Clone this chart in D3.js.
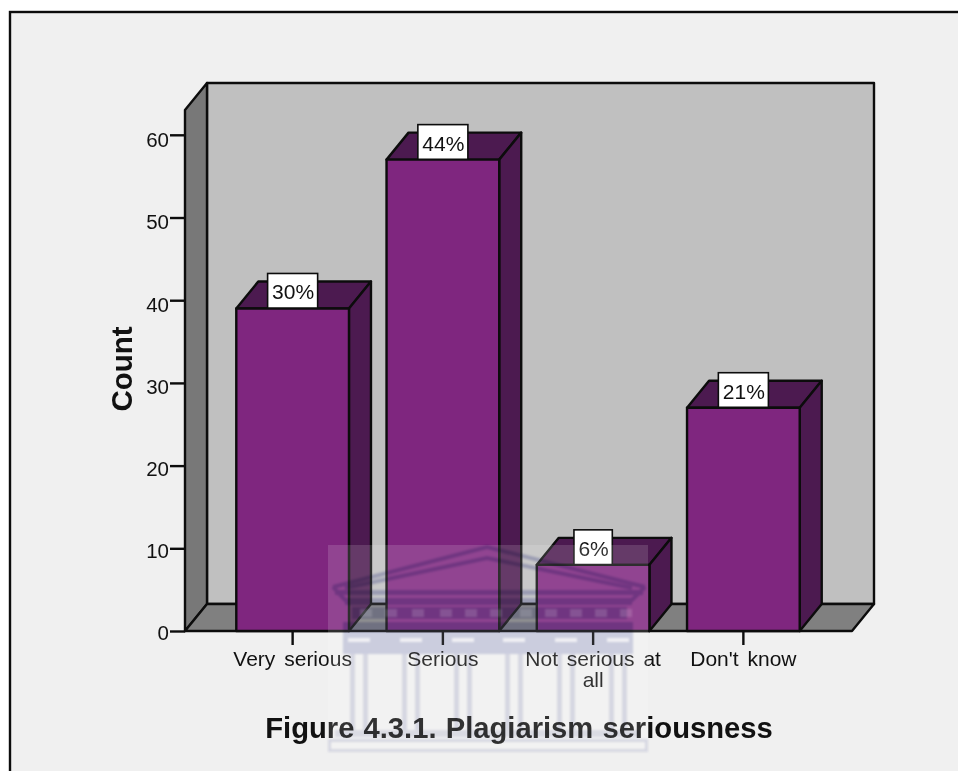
<!DOCTYPE html>
<html><head><meta charset="utf-8">
<script src="https://cdn.jsdelivr.net/npm/d3@7"></script>
<style>
html,body{margin:0;padding:0;background:#fff}
svg{display:block}
text{font-family:"Liberation Sans",Arial,sans-serif;fill:#111}
</style></head><body><svg id="c" width="958" height="771"></svg>
<script>
const categories = ["Very serious","Serious","Not serious at all","Don't know"];
const counts = [39,57,8,27];
const percents = ["30%","44%","6%","21%"];
const yTicks = [0,10,20,30,40,50,60];
const yTitle = "Count";
const figureTitle = "Figure 4.3.1. Plagiarism seriousness";

const svg = d3.select("#c");
const dx = 22, dy = 27, ink = "#0c0c0c", sw = 2.4;
const y = d3.scaleLinear().domain([0,63]).range([631,110]);
const yLabel = d3.scaleLinear().domain([0,60]).range([632,139.5]);
const x = d3.scaleBand().domain(categories).range([217.5,818.5]).paddingInner(0.25).paddingOuter(0.125);
const x0 = 185, x1 = 852, yB = y(0), yT = y(63);

const defs = svg.append("defs");
defs.append("filter").attr("id","soft").append("feGaussianBlur").attr("stdDeviation",0.8);

// frame
svg.append("rect").attr("x",10).attr("y",12).attr("width",960).attr("height",780)
  .attr("fill","#f0f0f0").attr("stroke",ink).attr("stroke-width",2.4);

const poly = (g,pts,fill) => g.append("polygon").attr("points",pts.map(p=>p.join(",")).join(" "))
  .attr("fill",fill).attr("stroke",ink).attr("stroke-width",sw).attr("stroke-linejoin","round");

// 3D walls
const walls = svg.append("g");
poly(walls,[[x0+dx,yT-dy],[x1+dx,yT-dy],[x1+dx,yB-dy],[x0+dx,yB-dy]],"#c0c0c0");
poly(walls,[[x0,yT],[x0+dx,yT-dy],[x0+dx,yB-dy],[x0,yB]],"#787878");
poly(walls,[[x0,yB],[x0+dx,yB-dy],[x1+dx,yB-dy],[x1,yB]],"#808080");

// axes
const ax = svg.append("g").attr("transform",`translate(${x0},0)`)
  .call(d3.axisLeft(y).tickValues(yTicks).tickSize(15).tickPadding(1).tickFormat(d3.format("d")));
const bx = svg.append("g").attr("transform",`translate(0,${yB})`)
  .call(d3.axisBottom(x).tickSize(14).tickPadding(6));
[ax,bx].forEach(g=>{
  g.select(".domain").remove();
  g.selectAll("line").attr("stroke",ink).attr("stroke-width",sw);
  g.selectAll("text").attr("font-size",20.5).style("fill","#111");
});
ax.selectAll("text").attr("dy","0.36em").attr("y",d=>yLabel(d)-y(d));
bx.selectAll("text").attr("font-size",21).style("word-spacing","3px");
// wrap long category labels
bx.selectAll("text").each(function(d){
  const t = d3.select(this), words = d.split(" ");
  if (this.getComputedTextLength() <= 150) return;
  const last = words.pop();
  t.text(null);
  t.append("tspan").attr("x",0).attr("dy","0.71em").text(words.join(" "));
  t.append("tspan").attr("x",0).attr("dy","1.02em").text(last);
  t.attr("dy",null);
});

// bars
const bars = svg.append("g");
categories.forEach((c,i)=>{
  const l = x(c), r = l + x.bandwidth(), t = y(counts[i]);
  const g = bars.append("g");
  poly(g,[[l,t],[l+dx,t-dy],[r+dx,t-dy],[r,t]],"#4c1a50");
  poly(g,[[r,t],[r+dx,t-dy],[r+dx,yB-dy],[r,yB]],"#4c1a50");
  const label = g.append("text").attr("x",(l+r)/2+0.5).attr("y",t-9).attr("text-anchor","middle")
    .attr("font-size",21).text(percents[i]);
  const w = label.node().getComputedTextLength() + 8;
  g.insert("rect","text").attr("x",(l+r)/2-w/2).attr("y",t-35).attr("width",w).attr("height",36)
    .attr("fill","#fff").attr("stroke",ink).attr("stroke-width",1.6);
  poly(g,[[l,t],[r,t],[r,yB],[l,yB]],"#7f267f");
});

// titles
svg.append("text").attr("transform","translate(132,369) rotate(-90)").attr("text-anchor","middle")
  .attr("font-size",29.5).attr("font-weight","bold").text(yTitle);
svg.append("text").attr("x",519).attr("y",738).attr("text-anchor","middle")
  .attr("font-size",29.2).style("word-spacing","1px").attr("font-weight","bold").text(figureTitle);

// watermark
const wm = svg.append("g");
wm.append("rect").attr("x",328).attr("y",545).attr("width",320).attr("height",207).attr("fill","#fff").attr("opacity",0.14);
const ml = wm.append("g").style("mix-blend-mode","multiply").attr("filter","url(#soft)");
const lav = "#c4c6e2", pale = "#e2e3ef";
const band = (xx,yy,w,h,f=lav) => ml.append("rect").attr("x",xx).attr("y",yy).attr("width",w).attr("height",h).attr("fill",f);
ml.append("path").attr("d","M333 587L487 547L645 587M345 588L487 558L632 588").attr("fill","none").attr("stroke",lav).attr("stroke-width",4);
ml.append("path").attr("d","M333 587L345 600H632L645 587").attr("fill","none").attr("stroke",lav).attr("stroke-width",4);
band(335,590,308,5);
band(345,601,287,4);
band(352,607,275,12);
band(343,622,290,10);
band(343,632,290,22,"#d6d8ea");
const capX = [348,400,452,503,555,607];
capX.forEach(v=>{
  band(v+2,654,5,76,pale);
  band(v+15,654,5,76,pale);
});
band(335,730,305,7,"#e6e7f0");
band(328,739,320,3,pale);
band(328,749,320,3,pale);
band(328,742,3,7,pale);
band(645,742,3,7,pale);
const gaps = wm.append("g").attr("filter","url(#soft)");
capX.forEach(v=>gaps.append("rect").attr("x",v).attr("y",638).attr("width",22).attr("height",4).attr("fill","#f0f0f4"));
[360,385,412,440,465,490,520,545,570,595,620].forEach(v=>gaps.append("rect").attr("x",v).attr("y",609).attr("width",12).attr("height",8).attr("fill","#fff").attr("opacity",0.15));
</script></body></html>
